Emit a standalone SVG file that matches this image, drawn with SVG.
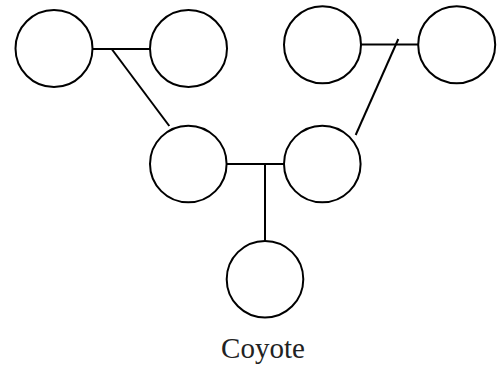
<svg xmlns="http://www.w3.org/2000/svg" width="500" height="366" viewBox="0 0 500 366">
<style>
.n{fill:#fff;stroke:#000;stroke-width:2}
.c{stroke:#000;stroke-width:2;fill:none}
.t{font-family:"Liberation Serif","Times New Roman",serif;font-size:29px;fill:#222}
</style>
<rect width="500" height="366" fill="#fff"/>
<g id="connectors">
<line class="c" x1="92" y1="49" x2="150" y2="49"/>
<line class="c" x1="111.7" y1="49" x2="169.3" y2="126"/>
<line class="c" x1="361" y1="44.5" x2="418" y2="44.5"/>
<line class="c" x1="398.3" y1="39" x2="355.7" y2="135"/>
<line class="c" x1="227" y1="164" x2="284" y2="164"/>
<line class="c" x1="265" y1="164" x2="265" y2="241"/>
</g>
<g id="n1"><circle class="n" cx="54" cy="48.5" r="38.5"/></g>
<g id="n2"><circle class="n" cx="188.5" cy="48.5" r="38.5"/></g>
<g id="n3"><circle class="n" cx="322.5" cy="44.7" r="38.5"/></g>
<g id="n4"><circle class="n" cx="456.7" cy="44.7" r="38.5"/></g>
<g id="n5"><circle class="n" cx="188.3" cy="164" r="38.3"/></g>
<g id="n6"><circle class="n" cx="322.3" cy="164" r="38.3"/></g>
<g id="n7"><circle class="n" cx="265" cy="279.2" r="38.3"/></g>
<text class="t" x="263" y="358" text-anchor="middle">Coyote</text>
</svg>
